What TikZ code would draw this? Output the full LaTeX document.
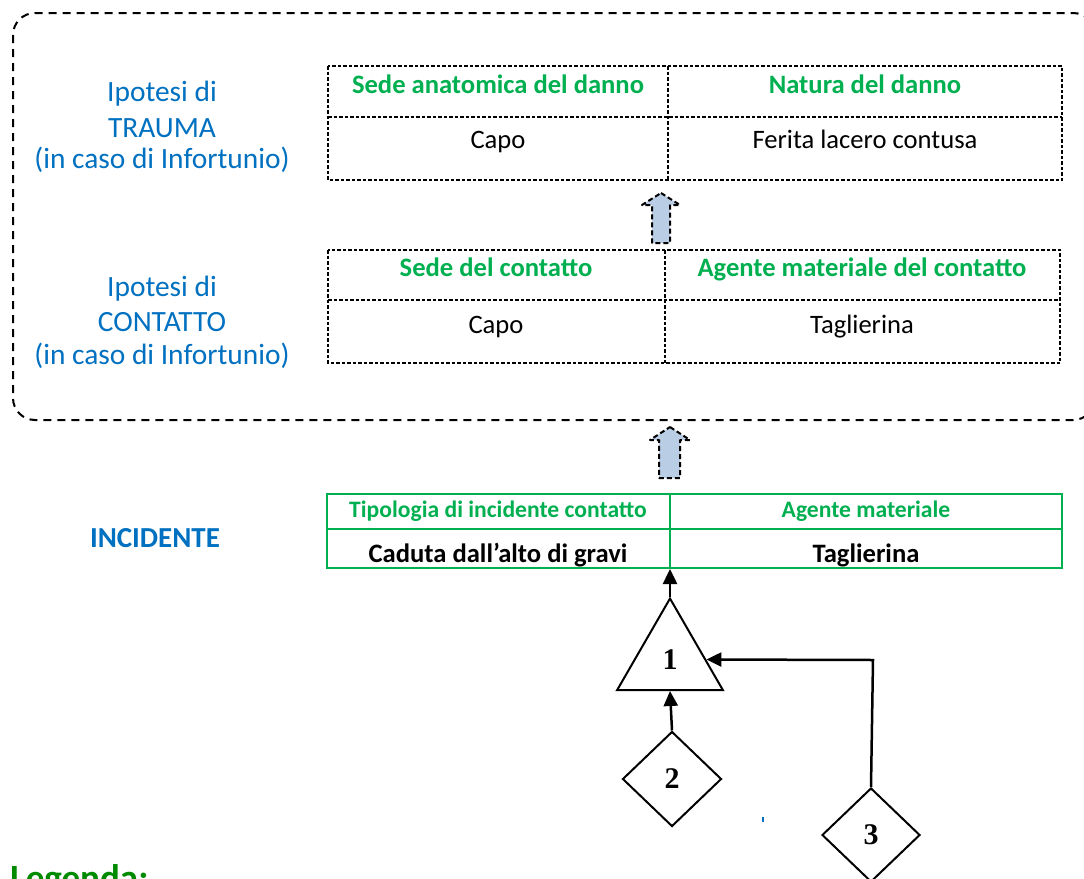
\documentclass[tikz,border=0pt]{standalone}
\usepackage{fontspec}
\setmainfont{Carlito}
\newfontfamily\numfont{Liberation Serif}
\usetikzlibrary{shapes.geometric,arrows.meta}
\definecolor{hdgreen}{HTML}{00B050}
\definecolor{lblblue}{HTML}{0070C0}
\definecolor{incblue}{HTML}{0070C0}
\definecolor{leggreen}{HTML}{008A00}
\definecolor{arrfill}{HTML}{B9CDE5}
\begin{document}
\begin{tikzpicture}[x=1pt,y=-1pt,
  cellbox/.style={inner sep=0pt, outer sep=0pt, anchor=north west},
  tabline/.style={draw, line width=1.5pt, dash pattern=on 3.5pt off 2pt},
  incline/.style={draw=hdgreen, line width=2pt},
  hdtext/.style={font=\bfseries\fontsize{26.6}{31}\selectfont, text=hdgreen, anchor=base, inner sep=0pt},
  bodytext/.style={font=\fontsize{26.6}{31}\selectfont, anchor=base, inner sep=0pt},
  inchd/.style={font=\bfseries\fontsize{23.6}{28}\selectfont, text=hdgreen, anchor=base, inner sep=0pt},
  incbody/.style={font=\bfseries\fontsize{26.6}{31}\selectfont, anchor=base, inner sep=0pt},
  sidelbl/.style={font=\fontsize{29.4}{34}\selectfont, text=lblblue, anchor=base, inner sep=0pt},
  blockarrow/.style={draw, fill=arrfill, line width=2pt, dash pattern=on 5pt off 3pt, line join=round},
  conn/.style={line width=2.5pt, -{Triangle[length=15pt,width=14pt]}},
  numtext/.style={font=\numfont\bfseries\fontsize{30}{34}\selectfont},
]
\useasboundingbox (0,0) rectangle (1084,878);
\clip (0,0) rectangle (1084,878);

% dashed frame
\draw[line width=2pt, dash pattern=on 8pt off 6pt, rounded corners=22pt] (13,13) rectangle (1095,420);

% side labels
\node[sidelbl] (l1a) at (162,101) {Ipotesi di};
\node[sidelbl] (l1b) at (162,137) {TRAUMA};
\node[sidelbl] (l1c) at (162,168) {(in caso di Infortunio)};
\node[sidelbl] (l2a) at (162,296) {Ipotesi di};
\node[sidelbl] (l2b) at (162,331) {CONTATTO};
\node[sidelbl] (l2c) at (162,364) {(in caso di Infortunio)};
\node[font=\bfseries\fontsize{29}{34}\selectfont, text=incblue, anchor=base, inner sep=0pt] (inc) at (155,547) {INCIDENTE};

% table 1 (trauma)
\node[cellbox, minimum width=340pt, minimum height=51pt] (ta11) at (328,66) {};
\node[cellbox, minimum width=394pt, minimum height=51pt] (ta12) at (668,66) {};
\node[cellbox, minimum width=340pt, minimum height=63pt] (ta21) at (328,117) {};
\node[cellbox, minimum width=394pt, minimum height=63pt] (ta22) at (668,117) {};
\draw[tabline] (ta11.north west) rectangle (ta22.south east);
\draw[tabline] (ta11.south west) -- (ta12.south east);
\draw[tabline] (ta11.north east) -- (ta21.south east);
\node[hdtext] (tah1) at (498,93) {Sede anatomica del danno};
\node[hdtext] (tah2) at (865,93) {Natura del danno};
\node[bodytext] (tab1) at (498,148) {Capo};
\node[bodytext] (tab2) at (865,148) {Ferita lacero contusa};

% table 2 (contatto)
\node[cellbox, minimum width=337pt, minimum height=50pt] (tb11) at (328,250) {};
\node[cellbox, minimum width=395pt, minimum height=50pt] (tb12) at (665,250) {};
\node[cellbox, minimum width=337pt, minimum height=63pt] (tb21) at (328,300) {};
\node[cellbox, minimum width=395pt, minimum height=63pt] (tb22) at (665,300) {};
\draw[tabline] (tb11.north west) rectangle (tb22.south east);
\draw[tabline] (tb11.south west) -- (tb12.south east);
\draw[tabline] (tb11.north east) -- (tb21.south east);
\node[hdtext] (tbh1) at (496,276) {Sede del contatto};
\node[hdtext] (tbh2) at (862,276) {Agente materiale del contatto};
\node[bodytext] (tbb1) at (496,333) {Capo};
\node[bodytext] (tbb2) at (862,333) {Taglierina};

% block arrows
\draw[blockarrow] (661,193) -- (680,205) -- (670,205) -- (670,243) -- (652,243) -- (652,205) -- (642,205) -- cycle;
\draw[blockarrow] (670,427) -- (690,440) -- (680,440) -- (680,478) -- (659,478) -- (659,440) -- (650,440) -- cycle;

% incident table
\node[cellbox, minimum width=343pt, minimum height=35pt] (tc11) at (327,494) {};
\node[cellbox, minimum width=392pt, minimum height=35pt] (tc12) at (670,494) {};
\node[cellbox, minimum width=343pt, minimum height=39pt] (tc21) at (327,529) {};
\node[cellbox, minimum width=392pt, minimum height=39pt] (tc22) at (670,529) {};
\draw[incline] (tc11.north west) rectangle (tc22.south east);
\draw[incline] (tc11.south west) -- (tc12.south east);
\draw[incline] (tc11.north east) -- (tc21.south east);
\node[inchd] (tch1) at (498,517) {Tipologia di incidente contatto};
\node[inchd] (tch2) at (866,517) {Agente materiale};
\node[incbody] (tcb1) at (498,562) {Caduta dall’alto di gravi};
\node[incbody] (tcb2) at (866,562) {Taglierina};

% fault-tree symbols
\node[draw, line width=2pt, regular polygon, regular polygon sides=3, minimum size=122pt, inner sep=0pt, numtext] (tri) at (670,659.5) {1};
\node[draw, line width=2pt, diamond, minimum width=99pt, minimum height=95pt, inner sep=0pt, numtext] (d2) at (672,779) {2};
\node[draw, line width=2pt, diamond, minimum width=98pt, minimum height=94pt, inner sep=0pt, numtext] (d3) at (871,835) {3};
\coordinate (tabbot) at (670,569);
\coordinate (bend) at (873,660);

\draw[conn] (tri.corner 1) -- (tabbot);
\draw[conn] (d2.north) -- (tri.south);
\draw[conn] (d3.north) -- (bend) -- (tri.east);

% stray mark
\fill[incblue] (762,817) rectangle (764,822);

% legend
\node[font=\bfseries\fontsize{37}{44}\selectfont, text=leggreen, anchor=base west, inner sep=0pt] (leg) at (10,890) {Legenda:};
\end{tikzpicture}
\end{document}
